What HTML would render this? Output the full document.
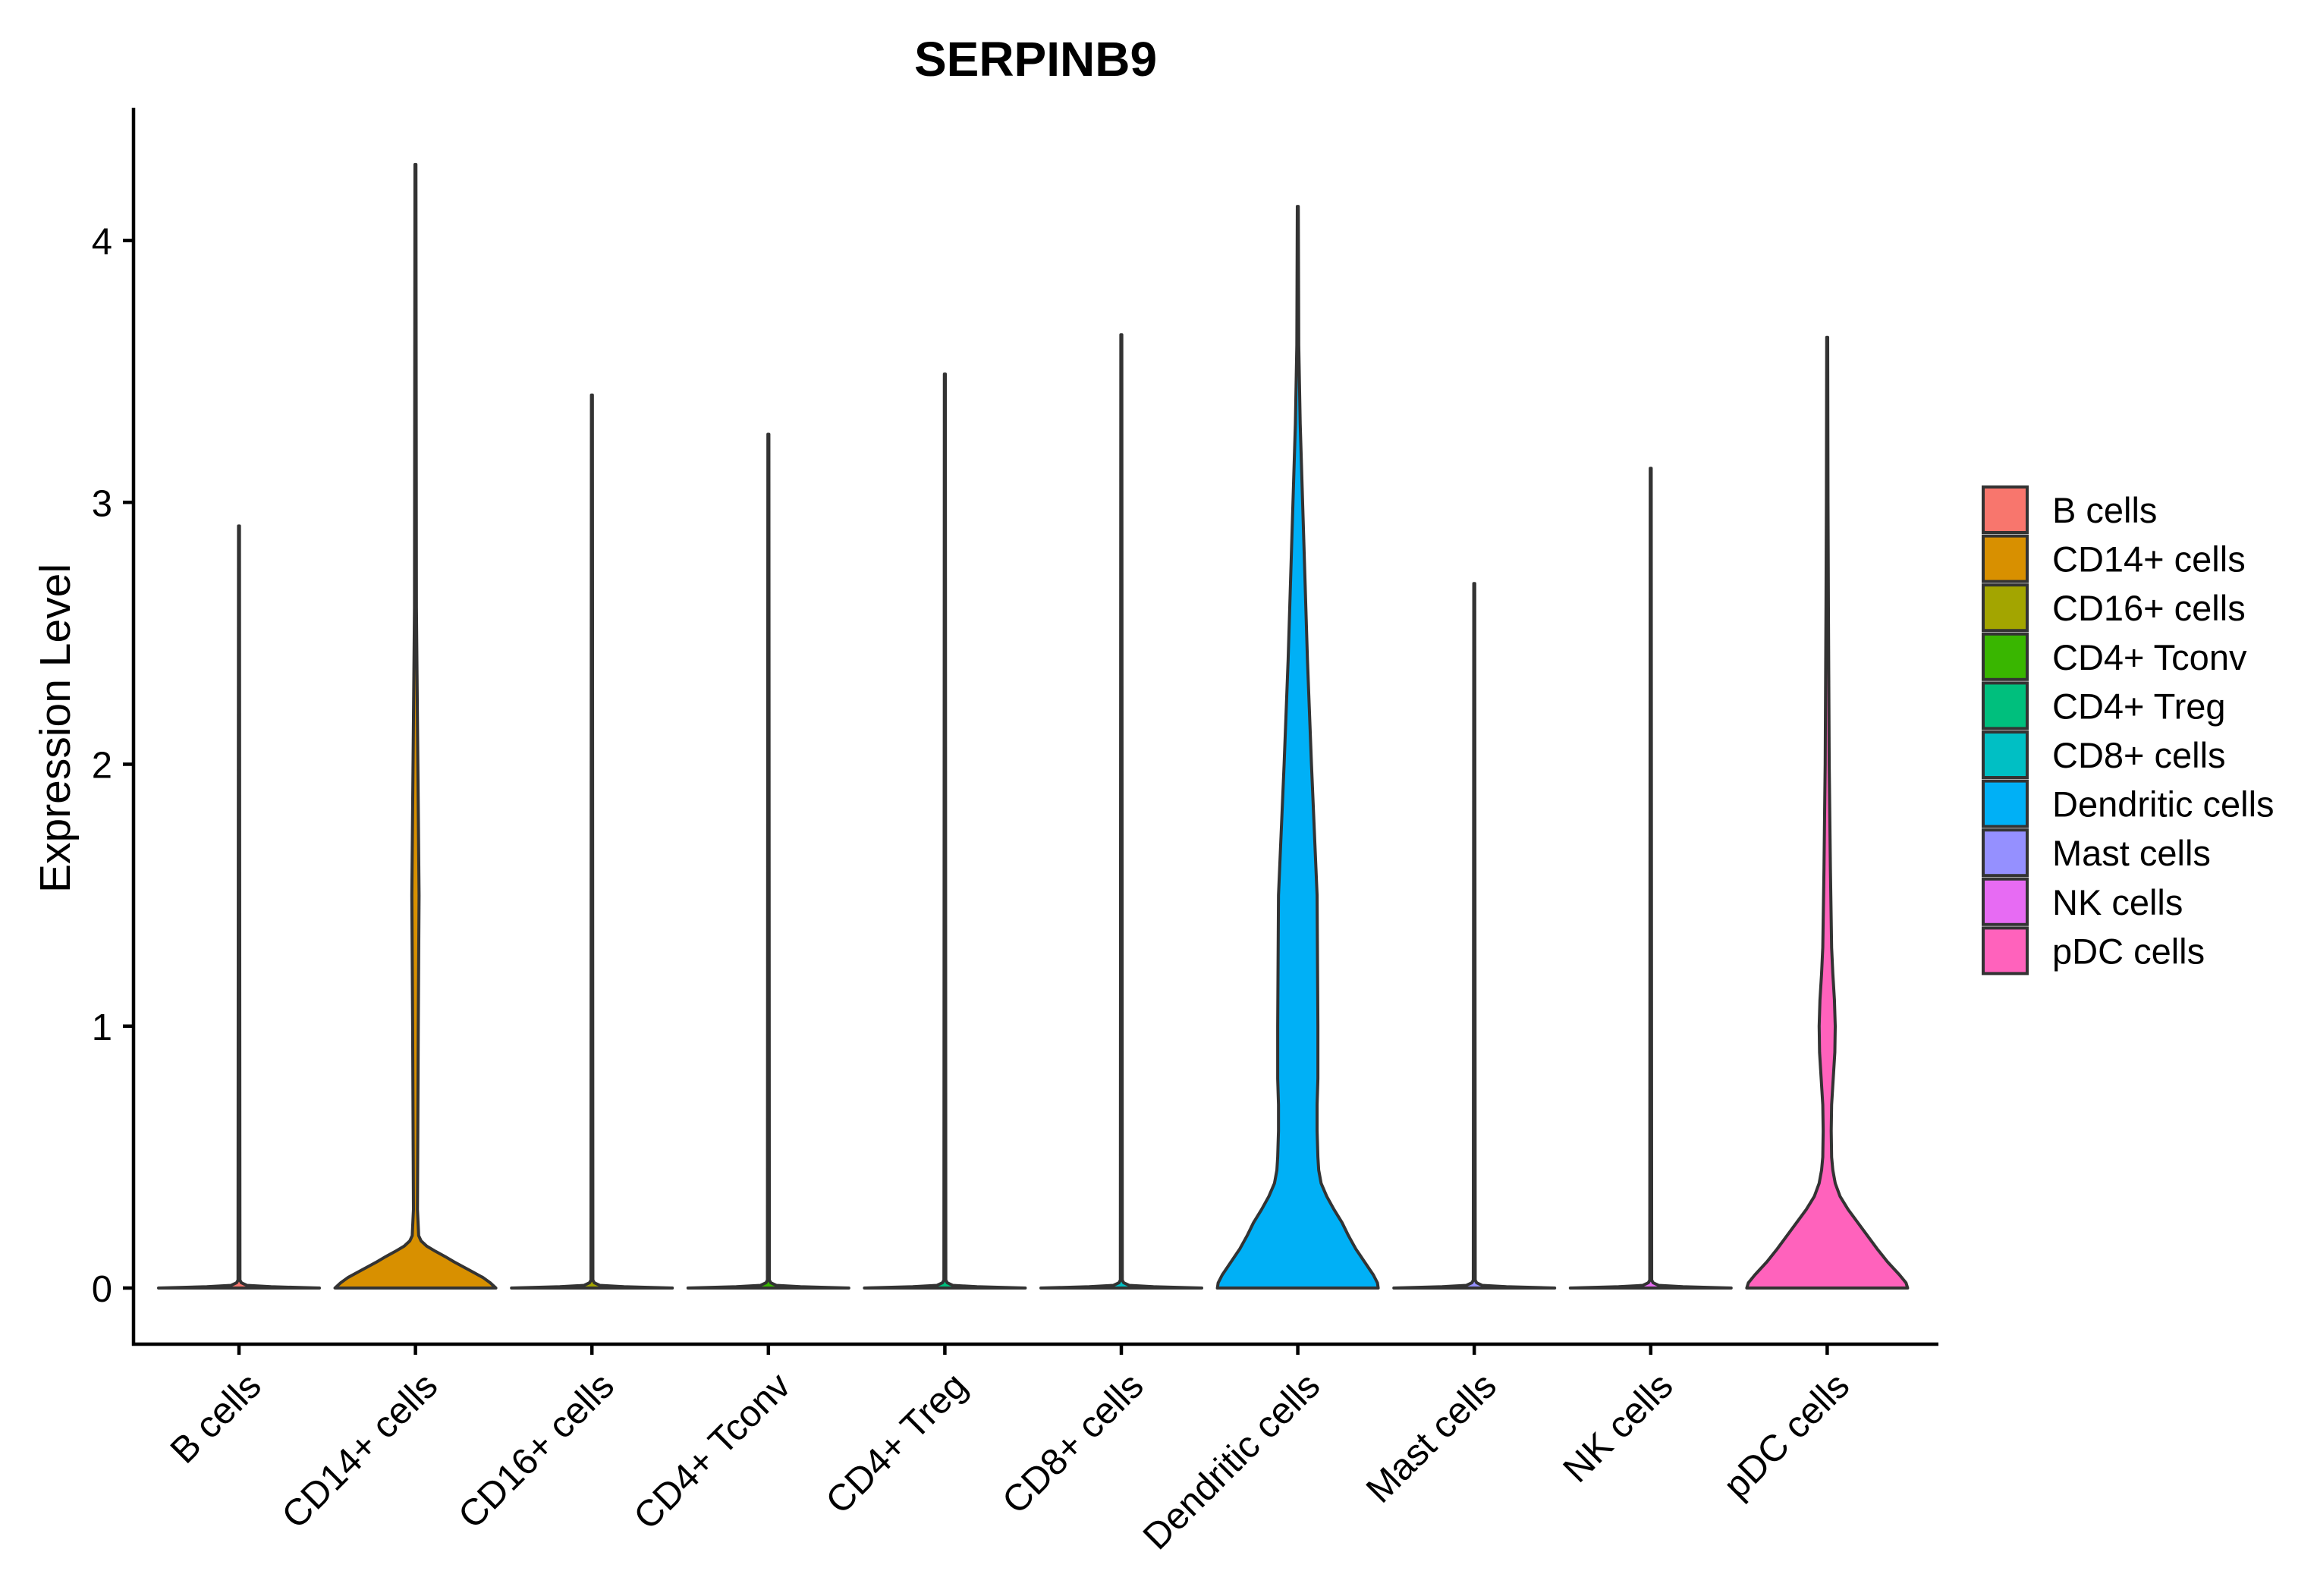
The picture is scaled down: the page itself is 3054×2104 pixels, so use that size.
<!DOCTYPE html>
<html><head><meta charset="utf-8"><style>
html,body{margin:0;padding:0;background:#fff;}
svg{display:block;font-family:"Liberation Sans",Arial,sans-serif;}
</style></head><body>
<svg id="chart" width="3054" height="2104" viewBox="0 0 3054 2104" xmlns="http://www.w3.org/2000/svg">
<rect width="3054" height="2104" fill="#fff"/>
<text x="1365" y="100" font-size="64" font-weight="bold" text-anchor="middle">SERPINB9</text>
<text transform="translate(92,960) rotate(-90)" font-size="57" text-anchor="middle">Expression Level</text>
<g id="plot"></g>
<g id="legend"></g>
</svg>
<script>
const categories = ["B cells","CD14+ cells","CD16+ cells","CD4+ Tconv","CD4+ Treg","CD8+ cells","Dendritic cells","Mast cells","NK cells","pDC cells"];
const colors = ["#F8766D","#D89000","#A3A500","#39B600","#00BF7D","#00BFC4","#00B0F6","#9590FF","#E76BF3","#FF62BC"];
const maxValues = [2.91,4.29,3.41,3.26,3.49,3.64,4.13,2.69,3.13,3.63];
const yTicks = [0,1,2,3,4];
const thinLevels = [0,0.005,0.01,0.02,0.03];
const thinWidths = [1,0.4,0.1,0.03,0.012];
const cd14Levels = [0,0.02,0.04,0.06,0.08,0.1,0.12,0.14,0.16,0.18,0.2,0.3,1.0,1.5,2.0,2.6];
const cd14Widths = [1,0.93,0.84,0.72,0.6,0.48,0.37,0.25,0.14,0.07,0.04,0.025,0.035,0.045,0.03,0.012];
const dcLevels = [0,0.02,0.05,0.1,0.15,0.2,0.25,0.3,0.35,0.4,0.45,0.5,0.6,0.7,0.8,1.0,1.5,2.0,2.4,2.8,3.0,3.3,3.6];
const dcWidths = [1,0.99,0.94,0.83,0.72,0.63,0.55,0.45,0.36,0.29,0.26,0.25,0.24,0.24,0.25,0.25,0.24,0.17,0.12,0.08,0.06,0.03,0.012];
const pdcLevels = [0,0.02,0.05,0.1,0.15,0.2,0.25,0.3,0.35,0.4,0.45,0.5,0.6,0.7,0.8,0.9,1.0,1.1,1.2,1.3,1.6,2.0,2.6,3.0];
const pdcWidths = [1,0.98,0.9,0.75,0.62,0.5,0.38,0.26,0.16,0.1,0.07,0.055,0.05,0.055,0.075,0.095,0.1,0.09,0.07,0.055,0.04,0.025,0.015,0.01];

const NS="http://www.w3.org/2000/svg";
const plot=document.getElementById('plot');
const legend=document.getElementById('legend');
const X0=176, XR=2555, YT=142, YB=1772;
const y0=1698, yUnit=345.25;
const cx0=315, step=232.6, halfMax=106;
function xScale(i){return cx0+i*step;}
function yScale(v){return y0-v*yUnit;}
function mk(tag,attrs){const e=document.createElementNS(NS,tag);for(const k in attrs)e.setAttribute(k,attrs[k]);return e;}

const yAxis=mk('line',{x1:X0,y1:YT,x2:X0,y2:YB+2,stroke:'#000','stroke-width':4.5});


plot.appendChild(yAxis);
const xAxis=mk('line',{x1:X0-2,y1:YB,x2:XR,y2:YB,stroke:'#000','stroke-width':4.5});


plot.appendChild(xAxis);

yTicks.forEach(t=>{
  const y=yScale(t);
  const tk=mk('line',{x1:X0-14,y1:y,x2:X0,y2:y,stroke:'#000','stroke-width':4.5});
  
  
  plot.appendChild(tk);
  const lb=mk('text',{x:X0-28,y:y+18,'font-size':49,'text-anchor':'end',fill:'#000'});
  lb.textContent=t;
  
  
  plot.appendChild(lb);
});

function profileFor(i){
  let L,W;
  if(i===1){L=cd14Levels;W=cd14Widths;}
  else if(i===6){L=dcLevels;W=dcWidths;}
  else if(i===9){L=pdcLevels;W=pdcWidths;}
  else {L=thinLevels;W=thinWidths;}
  const lv=L.filter(v=>v<maxValues[i]).concat([maxValues[i]]);
  const wd=W.slice(0,lv.length-1).concat([0.006]);
  return [lv,wd];
}

categories.forEach((c,i)=>{
  const cx=xScale(i);
  const [lv,wd]=profileFor(i);
  let pts=[];
  for(let k=0;k<lv.length;k++){pts.push([cx+wd[k]*halfMax,yScale(lv[k])]);}
  for(let k=lv.length-1;k>=0;k--){pts.push([cx-wd[k]*halfMax,yScale(lv[k])]);}
  const d='M'+pts.map(p=>p[0].toFixed(2)+','+p[1].toFixed(2)).join(' L')+'Z';
  const v=mk('path',{d:d,fill:colors[i],stroke:'#333','stroke-width':4,'stroke-linejoin':'round'});
  
  
  plot.appendChild(v);
  const tk=mk('line',{x1:cx,y1:YB,x2:cx,y2:YB+14,stroke:'#000','stroke-width':4.5});
  
  
  plot.appendChild(tk);
  const lb=mk('text',{transform:'translate('+(cx+32)+',1830) rotate(-45)','font-size':49,'text-anchor':'end',fill:'#000'});
  lb.textContent=c;
  
  
  plot.appendChild(lb);
  const ly=642+i*64.6;
  const box=mk('rect',{x:2614,y:ly,width:58,height:60,fill:colors[i],stroke:'#333','stroke-width':4});
  
  
  legend.appendChild(box);
  const lt=mk('text',{x:2705,y:ly+47,'font-size':47,fill:'#000'});
  lt.textContent=c;
  
  
  legend.appendChild(lt);
});
</script>
</body></html>
